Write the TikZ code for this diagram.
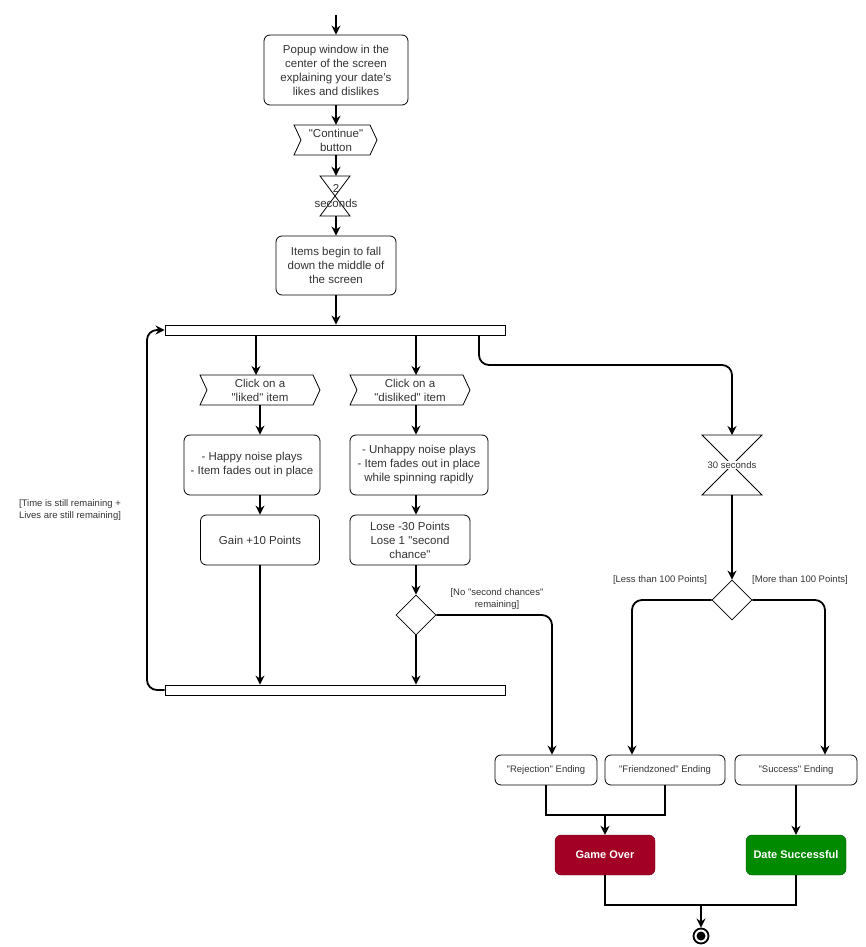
\documentclass[tikz,border=0pt]{standalone}
\usepackage{fontspec}
\setmainfont{Liberation Sans}
\usetikzlibrary{arrows.meta,shapes.geometric,shapes.symbols}
\definecolor{txt}{HTML}{333333}
\newcommand{\qq}{\textquotedbl}
\tikzset{
  act/.style={draw,line width=0.8pt,rounded corners=6pt,align=center,text=txt,font=\fontsize{11.5}{14}\selectfont,inner sep=1pt},
  fin/.style={act,font=\fontsize{9.5}{11}\selectfont},
  res/.style={draw,rounded corners=6pt,text=white,font=\bfseries\fontsize{11}{13}\selectfont,minimum width=100pt,minimum height=40pt},
  bar/.style={draw,line width=0.8pt,minimum width=340pt,minimum height=10pt,inner sep=0pt},
  dec/.style={draw,line width=0.8pt,diamond,minimum width=40pt,minimum height=40pt,inner sep=0pt},
  lbl/.style={align=center,text=txt,font=\fontsize{9.5}{11.5}\selectfont},
  shp/.style={draw,line width=0.8pt},
  flow/.style={line width=1.8pt,-{Stealth[length=9pt,width=9pt]}},
  line/.style={line width=1.8pt},
}
\begin{document}
\begin{tikzpicture}[x=1pt,y=-1pt]
    \useasboundingbox (0,0) rectangle (866,947);

    %%%%%%%%%% Nodi %%%%%%%%%%
    \coordinate (start) at (336,15);
    \node[act,minimum width=144pt,minimum height=70pt] (popup) at (336,70) {Popup window in the\\center of the screen\\explaining your date's\\likes and dislikes};
    \draw[shp] (294,125) -- (370,125) -- (377,140) -- (370,155) -- (294,155) -- (301,140) -- cycle;
    \node[lbl,font=\fontsize{11.5}{14}\selectfont,minimum height=30pt] (cont) at (336,140) {\qq Continue\qq\\button};
    \draw[shp] (320,176) -- (350,176) -- (320,216) -- (350,216) -- cycle;
    \node[lbl,font=\fontsize{11.5}{15}\selectfont,minimum height=40pt,minimum width=30pt] (wait) at (336,196) {2\\seconds};
    \node[act,minimum width=120pt,minimum height=59pt] (items) at (336,265.5) {Items begin to fall\\down the middle of\\the screen};
    \node[bar] (fork) at (335,330) {};

    \draw[shp] (200,375) -- (313,375) -- (320,390) -- (313,405) -- (200,405) -- (207,390) -- cycle;
    \node[lbl,font=\fontsize{11.5}{14}\selectfont,minimum height=30pt,minimum width=120pt] (liked) at (260,390) {Click on a\\\qq liked\qq{} item};
    \draw[shp] (350,375) -- (463,375) -- (470,390) -- (463,405) -- (350,405) -- (357,390) -- cycle;
    \node[lbl,font=\fontsize{11.5}{14}\selectfont,minimum height=30pt,minimum width=120pt] (disliked) at (410,390) {Click on a\\\qq disliked\qq{} item};

    \node[act,minimum width=136pt,minimum height=60pt] (happy) at (252,465) {- Happy noise plays\\- Item fades out in place};
    \node[act,minimum width=138pt,minimum height=60pt] (unhappy) at (419,465) {- Unhappy noise plays\\- Item fades out in place\\while spinning rapidly};
    \node[act,minimum width=119pt,minimum height=50pt] (gain) at (260,540) {Gain +10 Points};
    \node[act,minimum width=120pt,minimum height=50pt] (lose) at (410,540) {Lose -30 Points\\Lose 1 \qq second\\chance\qq};
    \node[dec] (chance) at (416,615) {};
    \node[bar] (join) at (335,690) {};

    \draw[shp] (702,435) -- (762,435) -- (702,495) -- (762,495) -- cycle;
    \coordinate (timer) at (732,465);
    \node[lbl,fill=white,inner sep=1pt] (timertxt) at (timer) {30 seconds};
    \node[dec] (score) at (732,600) {};

    \node[fin,minimum width=102pt,minimum height=30pt] (reject) at (546,770) {\qq Rejection\qq{} Ending};
    \node[fin,minimum width=120pt,minimum height=30pt] (friend) at (665,770) {\qq Friendzoned\qq{} Ending};
    \node[fin,minimum width=122pt,minimum height=30pt] (success) at (796,770) {\qq Success\qq{} Ending};
    \node[res,fill={rgb,255:red,162;green,0;blue,37},draw={rgb,255:red,110;green,0;blue,20}] (over) at (605,855) {Game Over};
    \node[res,fill={rgb,255:red,0;green,138;blue,0},draw={rgb,255:red,0;green,90;blue,0}] (win) at (796,855) {Date Successful};
    \node[draw,circle,line width=1.8pt,minimum size=15pt,inner sep=0pt] (stop) at (701,936) {};
    \fill (stop) circle (4.5pt);
    \coordinate (merge) at (605,815);
    \coordinate (end) at (701,905);

    \node[lbl] (looplbl) at (70,510) {[Time is still remaining +\\Lives are still remaining]};
    \node[lbl] (nolbl) at (497,599) {[No \qq second chances\qq\\remaining]};
    \node[lbl] (lesslbl) at (660,580) {[Less than 100 Points]};
    \node[lbl] (morelbl) at (800,580) {[More than 100 Points]};

    %%%%%%%%% Frecce %%%%%%%%%
    \draw[flow] (start) -- (popup);
    \draw[flow] (popup) -- (cont.north);
    \draw[flow] (cont) -- (wait);
    \draw[flow] (wait) -- (items);
    \draw[flow] (items) -- (items |- fork.north);
    \draw[flow] (fork.south -| 256,0) -- (256,375);
    \draw[flow] (fork.south -| 416,0) -- (416,375);
    \draw[flow,rounded corners=10pt] (fork.south -| 479,0) -- (479,365) -- (732,365) -- (732,435);
    \draw[flow] (260,405) -- (happy.north -| 260,0);
    \draw[flow] (416,405) -- (unhappy.north -| 416,0);
    \draw[flow] (happy.south -| 260,0) -- (gain);
    \draw[flow] (unhappy.south -| 416,0) -- (lose.north -| 416,0);
    \draw[flow] (lose.south -| 416,0) -- (chance);
    \draw[flow] (chance) -- (join.north -| chance);
    \draw[flow] (gain) -- (join.north -| gain);
    \draw[flow,rounded corners=10pt] (chance.east) -- (552,615) -- (reject.north -| 552,0);
    \draw[flow,rounded corners=10pt] (join.west) -- (147,690) -- (147,330) -- (fork.west);
    \draw[flow] (732,495) -- (score);
    \draw[flow,rounded corners=10pt] (score.west) -- (632,600) -- (friend.north -| 632,0);
    \draw[flow,rounded corners=10pt] (score.east) -- (825,600) -- (success.north -| 825,0);
    \draw[line] (reject) |- (merge) -| (friend);
    \draw[flow] (merge) -- (over);
    \draw[flow] (success) -- (win);
    \draw[line] (over) |- (end) -| (win);
    \draw[flow] (end) -- (stop);
\end{tikzpicture}
\end{document}
